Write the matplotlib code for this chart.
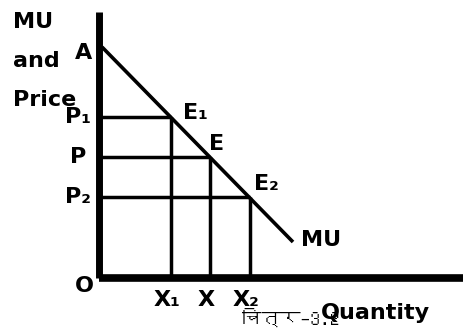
import matplotlib
matplotlib.use("Agg")
import matplotlib.pyplot as plt
from matplotlib import font_manager
from matplotlib.ft2font import FT2Font

# ---- data (diagram units: origin at 0,0) ----
quantities = [72, 111, 151]          # X1, X, X2
quantity_labels = ["X\u2081", "X", "X\u2082"]
prices = [161, 121, 81]              # P1, P, P2
price_labels = ["P\u2081", "P", "P\u2082"]
point_labels = ["E\u2081", "E", "E\u2082"]
mu_x = [3, 194]
mu_y = [231, 36]
caption = "चित्र–3.2"

# find a Devanagari-capable font if any
deva_family = None
for f in font_manager.fontManager.ttflist:
    try:
        cm = FT2Font(f.fname).get_charmap()
        if 0x091A in cm and 0x0924 in cm:
            deva_family = f.name
            break
    except Exception:
        pass

fig = plt.figure(figsize=(4.64, 3.31), dpi=100)
ax = fig.add_axes([0, 0, 1, 1])
ax.set_xlim(-99, 365)
ax.set_ylim(-53, 278)
ax.axis("off")

fs = 16
tkw = dict(fontsize=fs, fontweight="bold", color="black", family="DejaVu Sans")

# axes
ax.plot([0, 0], [0, 266], color="black", lw=5, solid_capstyle="butt")
ax.plot([0, 365], [0, 0], color="black", lw=5.5, solid_capstyle="butt")

# MU line
ax.plot(mu_x, mu_y, color="black", lw=2.6, solid_capstyle="butt")

# guide lines
for q, p in zip(quantities, prices):
    ax.plot([0, q], [p, p], color="black", lw=2.5, solid_capstyle="butt")
    ax.plot([q, q], [0, p], color="black", lw=2.5, solid_capstyle="butt")

# labels
ax.text(-86, 256, "MU", ha="left", va="center", **tkw)
ax.text(-86, 217, "and", ha="left", va="center", **tkw)
ax.text(-86, 178, "Price", ha="left", va="center", **tkw)
ax.text(-15, 225, "A", ha="center", va="center", **tkw)
ax.text(-15, -8, "O", ha="center", va="center", **tkw)

price_x = [-22, -22, -22]
for p, lab in zip(prices, price_labels):
    ax.text(-21, p, lab, ha="center", va="center", **tkw)
for q, lab in zip(quantities, quantity_labels):
    ax.text(q - 4, -22, lab, ha="center", va="center", **tkw)

pt_offsets = [(24, 4), (7, 13), (16, 13)]
for q, p, lab, (dx, dy) in zip(quantities, prices, point_labels, pt_offsets):
    ax.text(q + dx, p + dy, lab, ha="center", va="center", **tkw)

ax.text(222, 38, "MU", ha="center", va="center", **tkw)
ax.text(276, -35, "Quantity", ha="center", va="center", **tkw)

cap_family = [deva_family, "DejaVu Sans"] if deva_family else ["DejaVu Sans"]
ax.text(143, -39, caption, ha="left", va="center", fontsize=14,
        color="black", family=cap_family)

fig.savefig("out.png", dpi=100)
